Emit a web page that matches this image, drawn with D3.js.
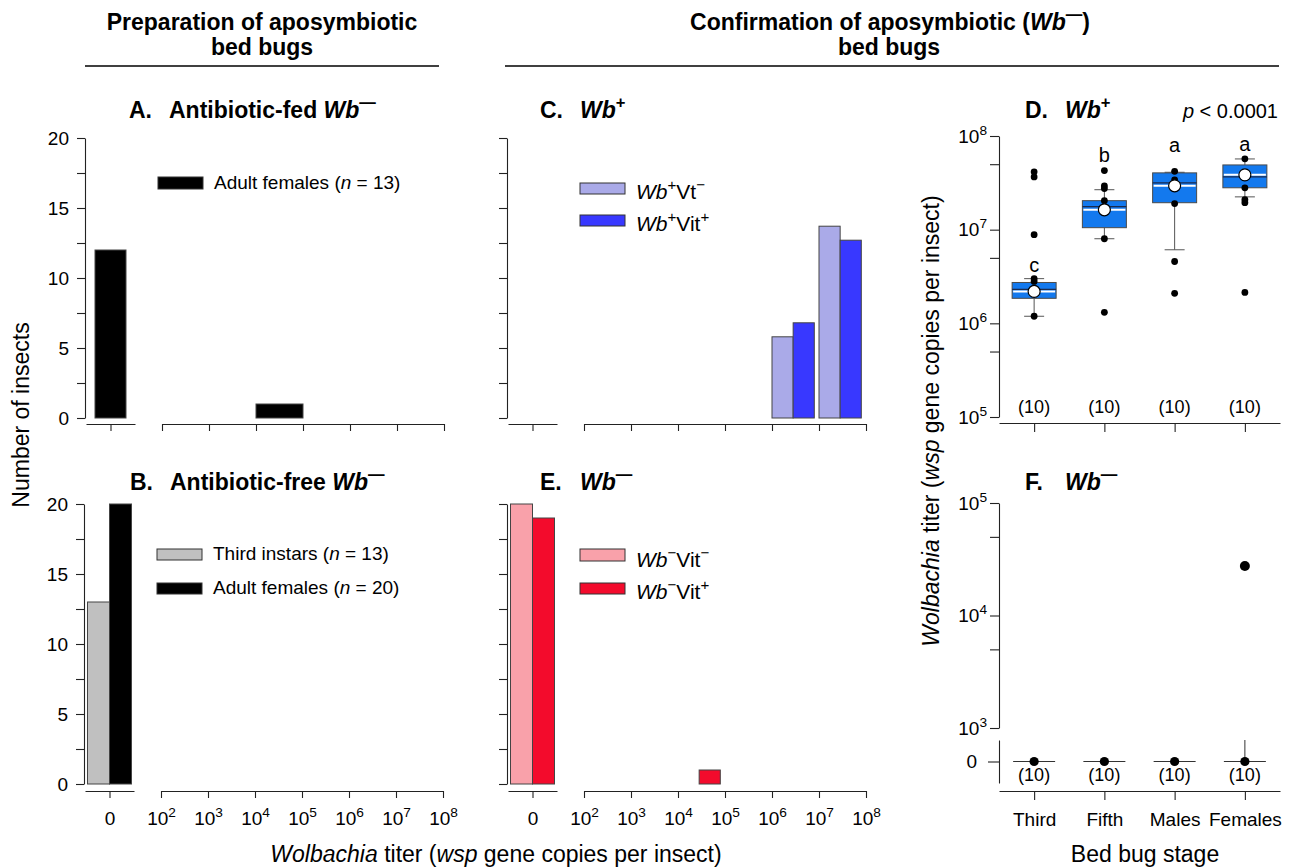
<!DOCTYPE html>
<html>
<head>
<meta charset="utf-8">
<script src="https://cdn.jsdelivr.net/npm/d3@7"></script>
<style>
  body { margin: 0; background: #fff; }
  svg { font-family: "Liberation Sans", Arial, sans-serif; }
</style>
</head>
<body>
<svg id="plot" width="1299" height="868"></svg>
<script>
// ---------- data: histograms (number of insects) ----------
var decadeTicks = [1e2, 1e3, 1e4, 1e5, 1e6, 1e7, 1e8];
var decadeBins = [1e2, 1e3, 1e4, 1e5, 1e6, 1e7];   // lower edge of each decade bin

// A. antibiotic-fed Wb-
var aFemalesZero = 12;
var aFemalesBins = [0, 0, 1, 0, 0, 0];
// B. antibiotic-free Wb-
var bThirdZero = 13;
var bThirdBins = [0, 0, 0, 0, 0, 0];
var bFemalesZero = 20;
var bFemalesBins = [0, 0, 0, 0, 0, 0];
// C. Wb+
var cVtNegZero = 0;
var cVtNegBins = [0, 0, 0, 0, 5.8, 13.7];
var cVitPosZero = 0;
var cVitPosBins = [0, 0, 0, 0, 6.8, 12.7];
// E. Wb-
var eVitNegZero = 20;
var eVitNegBins = [0, 0, 0, 0, 0, 0];
var eVitPosZero = 19;
var eVitPosBins = [0, 0, 1, 0, 0, 0];

// ---------- data: titer by stage ----------
var stages = ["Third", "Fifth", "Males", "Females"];
var stageN = [10, 10, 10, 10];
var dQ1 = [1.85e6, 1.05e7, 1.94e7, 2.8e7];
var dQ3 = [2.73e6, 2.04e7, 4.04e7, 4.91e7];
var dMedian = [2.3e6, 1.76e7, 3.16e7, 3.66e7];
var dMean = [2.19e6, 1.63e7, 2.94e7, 3.85e7];
var dWhiskLo = [1.19e6, 8.0e6, 6.1e6, 2.24e7];
var dWhiskHi = [3.0e6, 2.67e7, 4.1e7, 5.69e7];
var dPoints = [
  [4.14e7, 3.66e7, 8.85e6, 3.0e6, 2.8e6, 1.19e6],
  [4.27e7, 2.94e7, 2.75e7, 2.04e7, 8.0e6, 1.31e6],
  [4.2e7, 3.4e7, 1.9e7, 4.57e6, 2.09e6],
  [5.7e7, 2.8e7, 2.09e7, 1.94e7, 2.14e6]
];
var dLetters = ["c", "b", "a", "a"];
var dLetterAt = [3.57e6, 5.29e7, 6.76e7, 6.9e7];

var fMedian = [0, 0, 0, 0];
var fWhiskUp = [false, false, false, true];   // whisker runs past the axis break
var fPositives = [[], [], [], [2.75e4]];

// ---------- helpers ----------
var svg = d3.select("#plot");
var TICK = 19;

// parts: [text, flags] ; flags: "i" italic, "s" superscript
function rich(text, parts, size) {
  var up = false;
  parts.forEach(function(p) {
    var f = p[1] || "";
    var ts = text.append("tspan").text(p[0]);
    if (f.indexOf("i") >= 0) ts.attr("font-style", "italic");
    if (f.indexOf("s") >= 0) {
      ts.attr("font-size", size * 0.72);
      if (!up) { ts.attr("dy", -size * 0.45); up = true; }
    } else if (up) {
      ts.attr("dy", size * 0.45); up = false;
    }
  });
  return text;
}

function styleAxis(g, size) {
  g.attr("font-family", null).attr("font-size", size);
  g.selectAll("path, line").attr("stroke", "#222").attr("stroke-width", 1.1);
  g.selectAll("text").attr("fill", "#000");
}

function powLabel(sel) {
  sel.each(function(d) {
    var e = Math.round(Math.log10(d));
    var t = d3.select(this).text(null);
    if (Math.abs(Math.log10(d) - e) > 1e-6) return;
    t.append("tspan").text("10");
    t.append("tspan").attr("dy", -8).attr("font-size", TICK * 0.72).text(e);
  });
}

function legendItem(x, y, h, color, parts, size, baseline) {
  svg.append("rect").attr("x", x).attr("y", y).attr("width", 45).attr("height", h)
    .attr("fill", color).attr("stroke", "#333");
  rich(svg.append("text").attr("x", x + 56).attr("y", baseline).attr("font-size", size), parts, size);
}

function panelTitle(x, y, letter, parts) {
  svg.append("text").attr("x", x).attr("y", y).attr("font-size", 23).attr("font-weight", "bold").text(letter);
  rich(svg.append("text").attr("x", x + 40).attr("y", y).attr("font-size", 23).attr("font-weight", "bold"), parts, 23);
}

// ---------- histogram panel ----------
function histPanel(X0, base, top, axisY, series, colors, showY, showX) {
  var y = d3.scaleLinear().domain([0, 20]).range([base, top]);
  var xZero = d3.scalePoint().domain(["0"]).range([X0 + 1, X0 + 50]).padding(0.5);
  var xLog = d3.scaleLog().domain([1e2, 1e8]).range([X0 + 77, X0 + 359]);
  var g = svg.append("g");

  var n = series.length;
  var zw = n === 1 ? 31 : 44;
  var zc = xZero("0");
  var zBand = d3.scaleBand().domain(d3.range(n)).range([zc - zw / 2, zc + zw / 2]);

  series.forEach(function(s, i) {
    if (s.zero > 0) {
      g.append("rect")
        .attr("x", zBand(i)).attr("width", zBand.bandwidth())
        .attr("y", y(s.zero)).attr("height", y(0) - y(s.zero))
        .attr("fill", colors[i]).attr("stroke", "#444");
    }
    g.selectAll(null)
      .data(s.bins.map(function(v, k) { return {v: v, lo: decadeBins[k]}; }).filter(function(d) { return d.v > 0; }))
      .enter().append("rect")
        .attr("x", function(d) {
          var x0 = xLog(d.lo), x1 = xLog(d.lo * 10);
          var band = d3.scaleBand().domain(d3.range(n)).range([x0, x0 + (n === 1 ? 1 : 0.9) * (x1 - x0)]);
          return band(i);
        })
        .attr("width", function(d) {
          var x0 = xLog(d.lo), x1 = xLog(d.lo * 10);
          return (n === 1 ? 1 : 0.9) * (x1 - x0) / n;
        })
        .attr("y", function(d) { return y(d.v); })
        .attr("height", function(d) { return y(0) - y(d.v); })
        .attr("fill", colors[i]).attr("stroke", "#444");
  });

  var ya = g.append("g").attr("transform", "translate(" + X0 + ",0)")
    .call(d3.axisLeft(y).tickValues(d3.range(0, 20.01, 2.5)).tickSize(8).tickPadding(8).tickSizeOuter(0)
      .tickFormat(function(d) { return showY && d % 5 === 0 ? d : ""; }));
  styleAxis(ya, TICK);

  var xa0 = g.append("g").attr("transform", "translate(0," + axisY + ")")
    .call(d3.axisBottom(xZero).tickSize(7).tickPadding(14).tickSizeOuter(0)
      .tickFormat(function(d) { return showX ? d : ""; }));
  styleAxis(xa0, TICK);

  var xa1 = g.append("g").attr("transform", "translate(0," + axisY + ")")
    .call(d3.axisBottom(xLog).tickValues(decadeTicks).tickSize(7).tickPadding(14).tickSizeOuter(0));
  styleAxis(xa1, TICK);
  if (showX) xa1.selectAll(".tick text").call(powLabel);
  else xa1.selectAll(".tick text").text("");
}

// ---------- headers ----------
var h1 = svg.append("text").attr("x", 262).attr("text-anchor", "middle")
  .attr("font-size", 23).attr("font-weight", "bold");
h1.append("tspan").attr("x", 262).attr("y", 30).text("Preparation of aposymbiotic");
h1.append("tspan").attr("x", 262).attr("y", 55).text("bed bugs");
svg.append("line").attr("x1", 85).attr("x2", 439).attr("y1", 66).attr("y2", 66).attr("stroke", "#000").attr("stroke-width", 1.5);

rich(svg.append("text").attr("x", 890).attr("y", 30).attr("text-anchor", "middle")
  .attr("font-size", 23).attr("font-weight", "bold"),
  [["Confirmation of aposymbiotic ("], ["Wb", "i"], ["\u2014", "s"], [")"]], 23);
svg.append("text").attr("x", 889).attr("y", 55).attr("text-anchor", "middle")
  .attr("font-size", 23).attr("font-weight", "bold").text("bed bugs");
svg.append("line").attr("x1", 505).attr("x2", 1279).attr("y1", 66).attr("y2", 66).attr("stroke", "#000").attr("stroke-width", 1.5);

// ---------- panels A, B, C, E ----------
var purple = "#aaaae8", blue = "#3838ff", pink = "#f9a1aa", red = "#f30b2c";

histPanel(85, 418, 138, 424, [{zero: aFemalesZero, bins: aFemalesBins}], ["#000"], true, false);
histPanel(84, 784, 504, 791,
  [{zero: bThirdZero, bins: bThirdBins}, {zero: bFemalesZero, bins: bFemalesBins}],
  ["#c0c0c0", "#000"], true, true);
histPanel(507, 418, 138, 424,
  [{zero: cVtNegZero, bins: cVtNegBins}, {zero: cVitPosZero, bins: cVitPosBins}],
  [purple, blue], false, false);
histPanel(507, 784, 504, 791,
  [{zero: eVitNegZero, bins: eVitNegBins}, {zero: eVitPosZero, bins: eVitPosBins}],
  [pink, red], false, true);

panelTitle(129, 118, "A.", [["Antibiotic-fed "], ["Wb", "i"], ["\u2014", "s"]]);
panelTitle(130, 490, "B.", [["Antibiotic-free "], ["Wb", "i"], ["\u2014", "s"]]);
panelTitle(540, 118, "C.", [["Wb", "i"], ["+", "s"]]);
panelTitle(540, 490, "E.", [["Wb", "i"], ["\u2014", "s"]]);
panelTitle(1025, 118, "D.", [["Wb", "i"], ["+", "s"]]);
panelTitle(1025, 490, "F.", [["Wb", "i"], ["\u2014", "s"]]);

legendItem(158, 177, 12, "#000", [["Adult females ("], ["n", "i"], [" = 13)"]], 19, 189);
legendItem(157, 549, 11, "#c0c0c0", [["Third instars ("], ["n", "i"], [" = 13)"]], 19, 560);
legendItem(157, 583, 11, "#000", [["Adult females ("], ["n", "i"], [" = 20)"]], 19, 594);
legendItem(580, 183, 11, purple, [["Wb", "i"], ["+", "s"], ["Vt"], ["\u2212", "s"]], 21, 199);
legendItem(580, 215, 11, blue, [["Wb", "i"], ["+", "s"], ["Vit"], ["+", "s"]], 21, 231);
legendItem(580, 549, 12, pink, [["Wb", "i"], ["\u2212", "s"], ["Vit"], ["\u2212", "s"]], 21, 567);
legendItem(580, 583, 11, red, [["Wb", "i"], ["\u2212", "s"], ["Vit"], ["+", "s"]], 21, 599);

// axis titles
svg.append("text").attr("transform", "translate(29,415) rotate(-90)").attr("text-anchor", "middle")
  .attr("font-size", 23).text("Number of insects");
rich(svg.append("text").attr("x", 496).attr("y", 862).attr("text-anchor", "middle").attr("font-size", 23),
  [["Wolbachia", "i"], [" titer ("], ["wsp", "i"], [" gene copies per insect)"]], 23);

// ---------- panel D ----------
var stX = d3.scalePoint().domain(stages).range([999, 1280]).padding(0.5);
var dY = d3.scaleLog().domain([1e5, 1e8]).range([417, 136]);
var dG = svg.append("g");
var bw = 44;

stages.forEach(function(s, i) {
  var cx = stX(s);
  // whiskers
  [[dQ3[i], dWhiskHi[i]], [dQ1[i], dWhiskLo[i]]].forEach(function(w) {
    dG.append("line").attr("x1", cx).attr("x2", cx).attr("y1", dY(w[0])).attr("y2", dY(w[1]))
      .attr("stroke", "#555");
    dG.append("line").attr("x1", cx - 10).attr("x2", cx + 10).attr("y1", dY(w[1])).attr("y2", dY(w[1]))
      .attr("stroke", "#555");
  });
  dG.append("rect").attr("x", cx - bw / 2).attr("width", bw)
    .attr("y", dY(dQ3[i])).attr("height", dY(dQ1[i]) - dY(dQ3[i]))
    .attr("fill", "#1379ee").attr("stroke", "#4a4a4a");
  dG.append("line").attr("x1", cx - bw / 2).attr("x2", cx + bw / 2)
    .attr("y1", dY(dMedian[i])).attr("y2", dY(dMedian[i])).attr("stroke", "#1b2b4e").attr("stroke-width", 1.3);
  dG.append("line").attr("x1", cx - bw / 2 + 1).attr("x2", cx + bw / 2 - 1)
    .attr("y1", dY(dMean[i])).attr("y2", dY(dMean[i])).attr("stroke", "#fff").attr("stroke-width", 2);
  dG.selectAll(null).data(dPoints[i]).enter().append("circle")
    .attr("cx", cx).attr("cy", function(d) { return dY(d); }).attr("r", 3.4).attr("fill", "#000");
  dG.append("circle").attr("cx", cx).attr("cy", dY(dMean[i])).attr("r", 6)
    .attr("fill", "#fff").attr("stroke", "#000").attr("stroke-width", 1.2);
  dG.append("text").attr("x", cx).attr("y", dY(dLetterAt[i])).attr("text-anchor", "middle")
    .attr("font-size", 20).text(dLetters[i]);
  dG.append("text").attr("x", cx).attr("y", 413).attr("text-anchor", "middle")
    .attr("font-size", 18).text("(" + stageN[i] + ")");
});

var dya = dG.append("g").attr("transform", "translate(999,0)")
  .call(d3.axisLeft(dY).tickValues([1e5, 5e5, 1e6, 5e6, 1e7, 5e7, 1e8]).tickSize(9).tickPadding(3).tickSizeOuter(0));
styleAxis(dya, TICK);
dya.selectAll(".tick text").call(powLabel);
var dxa = dG.append("g").attr("transform", "translate(0,423)")
  .call(d3.axisBottom(stX).tickSize(9).tickSizeOuter(0).tickFormat(""));
styleAxis(dxa, TICK);

rich(svg.append("text").attr("x", 1278).attr("y", 118).attr("text-anchor", "end").attr("font-size", 20),
  [["p", "i"], [" < 0.0001"]], 20);

// ---------- panel F ----------
var fY = d3.scaleLog().domain([1e3, 1e5]).range([728, 503]);
var fZero = d3.scalePoint().domain(["0"]).range([783, 740]).padding(0.5);
var fG = svg.append("g");

stages.forEach(function(s, i) {
  var cx = stX(s), y0 = fZero("0");
  if (fWhiskUp[i]) {
    fG.append("line").attr("x1", cx).attr("x2", cx).attr("y1", y0).attr("y2", fZero.range()[1])
      .attr("stroke", "#333");
  }
  fG.append("line").attr("x1", cx - 21).attr("x2", cx + 21).attr("y1", y0).attr("y2", y0)
    .attr("stroke", "#333");
  if (fMedian[i] === 0) {
    fG.append("circle").attr("cx", cx).attr("cy", y0).attr("r", 4.6).attr("fill", "#000");
  }
  fG.selectAll(null).data(fPositives[i]).enter().append("circle")
    .attr("cx", cx).attr("cy", function(d) { return fY(d); }).attr("r", 5).attr("fill", "#000");
  fG.append("text").attr("x", cx).attr("y", 781).attr("text-anchor", "middle")
    .attr("font-size", 18).text("(" + stageN[i] + ")");
});

var fya = fG.append("g").attr("transform", "translate(999,0)")
  .call(d3.axisLeft(fY).tickValues([1e3, 5e3, 1e4, 5e4, 1e5]).tickSize(9).tickPadding(3).tickSizeOuter(0));
styleAxis(fya, TICK);
fya.selectAll(".tick text").call(powLabel);
var fza = fG.append("g").attr("transform", "translate(999,0)")
  .call(d3.axisLeft(fZero).tickSize(11).tickPadding(11).tickSizeOuter(0));
styleAxis(fza, TICK);
var fxa = fG.append("g").attr("transform", "translate(0,791)")
  .call(d3.axisBottom(stX).tickSize(9).tickPadding(13).tickSizeOuter(0));
styleAxis(fxa, 19);

svg.append("text").attr("x", 1145).attr("y", 862).attr("text-anchor", "middle")
  .attr("font-size", 23).text("Bed bug stage");
rich(svg.append("text").attr("transform", "translate(939,421) rotate(-90)").attr("text-anchor", "middle")
  .attr("font-size", 23),
  [["Wolbachia", "i"], [" titer ("], ["wsp", "i"], [" gene copies per insect)"]], 23);
</script>
</body>
</html>
